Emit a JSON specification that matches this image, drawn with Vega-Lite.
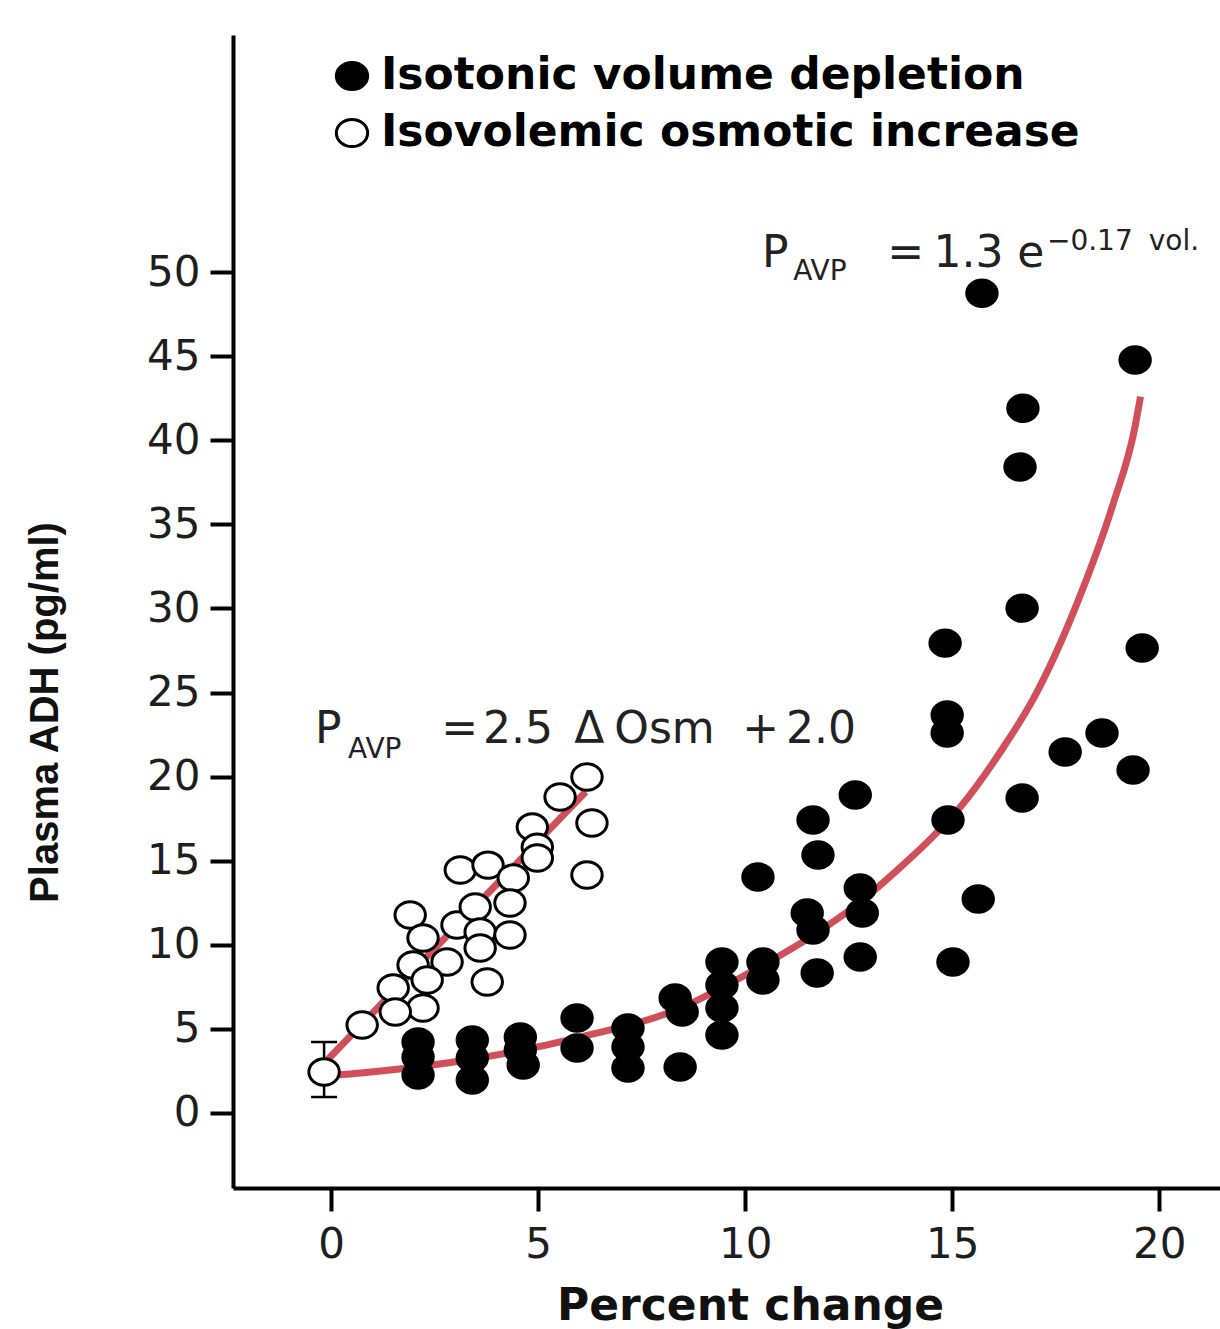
{
  "$schema": "https://vega.github.io/schema/vega-lite/v6.json",
  "width": 987,
  "height": 1153,
  "autosize": {"type": "none"},
  "padding": {"left": 233, "top": 35, "right": 0, "bottom": 141},
  "background": "white",
  "config": {
    "view": {"stroke": null},
    "axis": {
      "domainColor": "black",
      "domainWidth": 4,
      "tickColor": "black",
      "tickWidth": 4,
      "tickSize": 23,
      "grid": false,
      "labelFont": "DejaVu Sans",
      "labelFontSize": 42,
      "labelColor": "#1e1e1e",
      "titleColor": "#111111"
    },
    "legend": {
      "orient": "none",
      "legendX": 97,
      "legendY": 19,
      "padding": 0,
      "symbolType": "M-1.15,0A1.15,1,0,1,0,1.15,0A1.15,1,0,1,0,-1.15,0Z",
      "symbolSize": 740,
      "symbolStrokeColor": "black",
      "symbolStrokeWidth": 3,
      "symbolOpacity": 1,
      "labelFont": "DejaVu Sans",
      "labelFontWeight": "bold",
      "labelFontSize": 44,
      "labelColor": "black",
      "labelOffset": 7,
      "labelLimit": 0,
      "rowPadding": 13
    }
  },
  "datasets": {
    "points": [
      {"series": "Isotonic volume depletion", "pct": 2.10, "adh": 4.22},
      {"series": "Isotonic volume depletion", "pct": 2.10, "adh": 3.33},
      {"series": "Isotonic volume depletion", "pct": 2.10, "adh": 2.26},
      {"series": "Isotonic volume depletion", "pct": 3.41, "adh": 4.34},
      {"series": "Isotonic volume depletion", "pct": 3.41, "adh": 3.27},
      {"series": "Isotonic volume depletion", "pct": 3.41, "adh": 1.96},
      {"series": "Isotonic volume depletion", "pct": 4.57, "adh": 4.52},
      {"series": "Isotonic volume depletion", "pct": 4.57, "adh": 3.75},
      {"series": "Isotonic volume depletion", "pct": 4.64, "adh": 2.85},
      {"series": "Isotonic volume depletion", "pct": 5.94, "adh": 5.65},
      {"series": "Isotonic volume depletion", "pct": 5.94, "adh": 3.86},
      {"series": "Isotonic volume depletion", "pct": 7.17, "adh": 5.05},
      {"series": "Isotonic volume depletion", "pct": 7.17, "adh": 3.92},
      {"series": "Isotonic volume depletion", "pct": 7.17, "adh": 2.68},
      {"series": "Isotonic volume depletion", "pct": 8.31, "adh": 6.84},
      {"series": "Isotonic volume depletion", "pct": 8.48, "adh": 6.00},
      {"series": "Isotonic volume depletion", "pct": 8.43, "adh": 2.73},
      {"series": "Isotonic volume depletion", "pct": 9.44, "adh": 8.98},
      {"series": "Isotonic volume depletion", "pct": 9.44, "adh": 7.61},
      {"series": "Isotonic volume depletion", "pct": 9.44, "adh": 6.24},
      {"series": "Isotonic volume depletion", "pct": 9.44, "adh": 4.64},
      {"series": "Isotonic volume depletion", "pct": 10.43, "adh": 8.98},
      {"series": "Isotonic volume depletion", "pct": 10.43, "adh": 7.91},
      {"series": "Isotonic volume depletion", "pct": 10.31, "adh": 14.03},
      {"series": "Isotonic volume depletion", "pct": 11.50, "adh": 11.89},
      {"series": "Isotonic volume depletion", "pct": 11.64, "adh": 10.88},
      {"series": "Isotonic volume depletion", "pct": 11.74, "adh": 8.32},
      {"series": "Isotonic volume depletion", "pct": 11.64, "adh": 17.42},
      {"series": "Isotonic volume depletion", "pct": 11.76, "adh": 15.34},
      {"series": "Isotonic volume depletion", "pct": 12.66, "adh": 18.91},
      {"series": "Isotonic volume depletion", "pct": 12.78, "adh": 13.38},
      {"series": "Isotonic volume depletion", "pct": 12.83, "adh": 11.89},
      {"series": "Isotonic volume depletion", "pct": 12.78, "adh": 9.27},
      {"series": "Isotonic volume depletion", "pct": 14.83, "adh": 27.94},
      {"series": "Isotonic volume depletion", "pct": 14.88, "adh": 23.66},
      {"series": "Isotonic volume depletion", "pct": 14.88, "adh": 22.59},
      {"series": "Isotonic volume depletion", "pct": 14.90, "adh": 17.42},
      {"series": "Isotonic volume depletion", "pct": 15.02, "adh": 8.98},
      {"series": "Isotonic volume depletion", "pct": 15.63, "adh": 12.72},
      {"series": "Isotonic volume depletion", "pct": 15.72, "adh": 48.75},
      {"series": "Isotonic volume depletion", "pct": 16.71, "adh": 41.91},
      {"series": "Isotonic volume depletion", "pct": 16.64, "adh": 38.41},
      {"series": "Isotonic volume depletion", "pct": 16.69, "adh": 30.02},
      {"series": "Isotonic volume depletion", "pct": 16.69, "adh": 18.73},
      {"series": "Isotonic volume depletion", "pct": 17.73, "adh": 21.46},
      {"series": "Isotonic volume depletion", "pct": 18.62, "adh": 22.59},
      {"series": "Isotonic volume depletion", "pct": 19.37, "adh": 20.39},
      {"series": "Isotonic volume depletion", "pct": 19.42, "adh": 44.77},
      {"series": "Isotonic volume depletion", "pct": 19.59, "adh": 27.65},
      {"series": "Isovolemic osmotic increase", "pct": 6.18, "adh": 19.98},
      {"series": "Isovolemic osmotic increase", "pct": 5.53, "adh": 18.79},
      {"series": "Isovolemic osmotic increase", "pct": 6.30, "adh": 17.24},
      {"series": "Isovolemic osmotic increase", "pct": 4.86, "adh": 17.00},
      {"series": "Isovolemic osmotic increase", "pct": 4.98, "adh": 15.81},
      {"series": "Isovolemic osmotic increase", "pct": 4.98, "adh": 15.16},
      {"series": "Isovolemic osmotic increase", "pct": 6.18, "adh": 14.15},
      {"series": "Isovolemic osmotic increase", "pct": 3.12, "adh": 14.45},
      {"series": "Isovolemic osmotic increase", "pct": 3.79, "adh": 14.74},
      {"series": "Isovolemic osmotic increase", "pct": 4.40, "adh": 13.97},
      {"series": "Isovolemic osmotic increase", "pct": 1.91, "adh": 11.77},
      {"series": "Isovolemic osmotic increase", "pct": 3.04, "adh": 11.18},
      {"series": "Isovolemic osmotic increase", "pct": 3.48, "adh": 12.25},
      {"series": "Isovolemic osmotic increase", "pct": 4.32, "adh": 12.49},
      {"series": "Isovolemic osmotic increase", "pct": 3.60, "adh": 10.76},
      {"series": "Isovolemic osmotic increase", "pct": 4.32, "adh": 10.58},
      {"series": "Isovolemic osmotic increase", "pct": 3.60, "adh": 9.81},
      {"series": "Isovolemic osmotic increase", "pct": 2.22, "adh": 10.40},
      {"series": "Isovolemic osmotic increase", "pct": 1.98, "adh": 8.80},
      {"series": "Isovolemic osmotic increase", "pct": 2.80, "adh": 8.98},
      {"series": "Isovolemic osmotic increase", "pct": 2.32, "adh": 7.91},
      {"series": "Isovolemic osmotic increase", "pct": 3.77, "adh": 7.79},
      {"series": "Isovolemic osmotic increase", "pct": 1.50, "adh": 7.43},
      {"series": "Isovolemic osmotic increase", "pct": 2.22, "adh": 6.24},
      {"series": "Isovolemic osmotic increase", "pct": 1.55, "adh": 6.00},
      {"series": "Isovolemic osmotic increase", "pct": 0.75, "adh": 5.23},
      {"series": "Isovolemic osmotic increase", "pct": -0.17, "adh": 2.44}
    ],
    "errbar": [{"pct": -0.17, "lo": 0.95, "hi": 4.22}],
    "errcaps": [{"pct": -0.17, "adh": 0.95}, {"pct": -0.17, "adh": 4.22}],
    "fit_osm": [{"pct": -0.15, "adh": 3.0}, {"pct": 6.15, "adh": 19.1}],
    "fit_vol": [
      {"pct": -0.15, "adh": 2.2},
      {"pct": 1.2, "adh": 2.5},
      {"pct": 3.4, "adh": 3.2},
      {"pct": 6.0, "adh": 4.5},
      {"pct": 8.4, "adh": 6.2},
      {"pct": 10.0, "adh": 8.2},
      {"pct": 11.6, "adh": 10.5},
      {"pct": 12.6, "adh": 12.2},
      {"pct": 13.7, "adh": 14.5},
      {"pct": 14.6, "adh": 16.6},
      {"pct": 15.2, "adh": 18.2},
      {"pct": 16.2, "adh": 21.6},
      {"pct": 17.0, "adh": 24.8},
      {"pct": 18.0, "adh": 30.2},
      {"pct": 18.9, "adh": 36.3},
      {"pct": 19.4, "adh": 40.6},
      {"pct": 19.55, "adh": 42.6}
    ],
    "ann_big": [
      {"pct": 10.41, "adh": 50.30, "label": "P"},
      {"pct": 13.43, "adh": 50.30, "label": "="},
      {"pct": 14.55, "adh": 50.30, "label": "1.3"},
      {"pct": 16.57, "adh": 50.30, "label": "e"},
      {"pct": -0.39, "adh": 22.00, "label": "P"},
      {"pct": 2.66, "adh": 22.00, "label": "="},
      {"pct": 3.67, "adh": 22.00, "label": "2.5"},
      {"pct": 5.87, "adh": 22.00, "label": "Δ"},
      {"pct": 6.84, "adh": 22.00, "label": "Osm"},
      {"pct": 9.93, "adh": 22.00, "label": "+"},
      {"pct": 10.99, "adh": 22.00, "label": "2.0"}
    ],
    "ann_small": [
      {"pct": 11.16, "adh": 49.52, "label": "AVP"},
      {"pct": 17.29, "adh": 51.31, "label": "−0.17"},
      {"pct": 19.75, "adh": 51.31, "label": "vol."},
      {"pct": 0.41, "adh": 21.11, "label": "AVP"}
    ]
  },
  "layer": [
    {
      "data": {"name": "errbar"},
      "mark": {"type": "rule", "color": "black", "strokeWidth": 2.5},
      "encoding": {
        "x": {"field": "pct", "type": "quantitative", "scale": {"domain": [-2.37, 21.47], "nice": false, "zero": false},
          "axis": {"values": [0, 5, 10, 15, 20], "title": "Percent change", "labelPadding": 13,
            "titleFont": "DejaVu Sans", "titleFontWeight": "bold", "titleFontSize": 44,
            "titleAnchor": "start", "titleAlign": "center", "titleBaseline": "alphabetic", "titleX": 517, "titleY": 131}},
        "y": {"field": "lo", "type": "quantitative", "scale": {"domain": [-4.46, 64.1], "nice": false, "zero": false},
          "axis": {"values": [0, 5, 10, 15, 20, 25, 30, 35, 40, 45, 50], "title": "Plasma ADH (pg/ml)", "labelPadding": 10,
            "titleFont": "Liberation Sans", "titleFontWeight": "bold", "titleFontSize": 40,
            "titleAngle": 270, "titleAnchor": "start", "titleAlign": "center", "titleBaseline": "alphabetic", "titleX": -176, "titleY": 677}},
        "y2": {"field": "hi"}
      }
    },
    {
      "data": {"name": "errcaps"},
      "mark": {"type": "tick", "orient": "horizontal", "color": "black", "size": 26, "thickness": 2.5, "opacity": 1},
      "encoding": {
        "x": {"field": "pct", "type": "quantitative"},
        "y": {"field": "adh", "type": "quantitative"}
      }
    },
    {
      "data": {"name": "fit_osm"},
      "mark": {"type": "line", "color": "#d14f5b", "strokeWidth": 7, "strokeCap": "butt"},
      "encoding": {
        "x": {"field": "pct", "type": "quantitative"},
        "y": {"field": "adh", "type": "quantitative"}
      }
    },
    {
      "data": {"name": "fit_vol"},
      "mark": {"type": "line", "color": "#d14f5b", "strokeWidth": 7, "strokeCap": "butt", "interpolate": "monotone"},
      "encoding": {
        "x": {"field": "pct", "type": "quantitative"},
        "y": {"field": "adh", "type": "quantitative"}
      }
    },
    {
      "data": {"name": "points"},
      "mark": {"type": "point", "filled": true, "shape": "M-1.15,0A1.15,1,0,1,0,1.15,0A1.15,1,0,1,0,-1.15,0Z", "size": 700, "stroke": "black", "strokeWidth": 3, "opacity": 1},
      "encoding": {
        "x": {"field": "pct", "type": "quantitative"},
        "y": {"field": "adh", "type": "quantitative"},
        "fill": {"field": "series", "type": "nominal",
          "scale": {"domain": ["Isotonic volume depletion", "Isovolemic osmotic increase"], "range": ["#000000", "#ffffff"]},
          "legend": {"title": null}}
      }
    },
    {
      "data": {"name": "ann_big"},
      "mark": {"type": "text", "align": "left", "baseline": "alphabetic", "font": "DejaVu Sans", "fontSize": 44, "color": "#222222"},
      "encoding": {
        "x": {"field": "pct", "type": "quantitative"},
        "y": {"field": "adh", "type": "quantitative"},
        "text": {"field": "label"}
      }
    },
    {
      "data": {"name": "ann_small"},
      "mark": {"type": "text", "align": "left", "baseline": "alphabetic", "font": "DejaVu Sans", "fontSize": 28, "color": "#222222"},
      "encoding": {
        "x": {"field": "pct", "type": "quantitative"},
        "y": {"field": "adh", "type": "quantitative"},
        "text": {"field": "label"}
      }
    }
  ]
}
